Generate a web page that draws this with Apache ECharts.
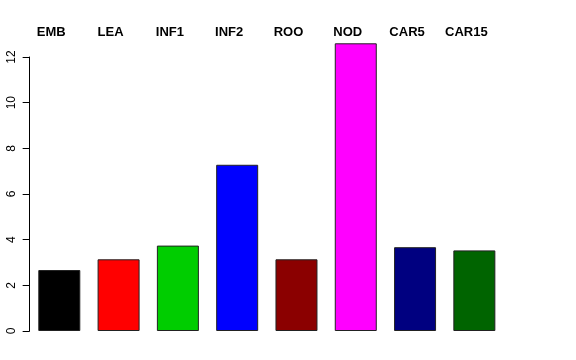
<!DOCTYPE html>
<html>
<head>
<meta charset="utf-8">
<script src="https://cdn.jsdelivr.net/npm/echarts@6/dist/echarts.min.js"></script>
<style>
html,body{margin:0;padding:0;background:#fff;}
#chart{width:576px;height:360px;}
</style>
</head>
<body>
<div id="chart"></div>
<script>
var categories = ["EMB", "LEA", "INF1", "INF2", "ROO", "NOD", "CAR5", "CAR15"];
var values = [2.67, 3.14, 3.74, 7.28, 3.14, 12.6, 3.67, 3.53];
var barColors = ["#000000", "#FF0000", "#00CD00", "#0000FF", "#8B0000", "#FF00FF", "#000080", "#006400"];
var yTicks = [0, 2, 4, 6, 8, 10, 12];

var chart = echarts.init(document.getElementById('chart'), null, {renderer: 'canvas'});
var font = '"Liberation Sans", Arial, Helvetica, sans-serif';
chart.setOption({
  animation: false,
  backgroundColor: '#ffffff',
  grid: {left: 29.65, right: 72, top: 57, bottom: 29, containLabel: false},
  xAxis: {
    type: 'category',
    data: categories,
    position: 'top',
    axisLine: {show: false, onZero: false},
    axisTick: {show: false},
    splitLine: {show: false},
    axisLabel: {
      margin: 18,
      fontFamily: font,
      fontSize: 13,
      fontWeight: 'bold',
      color: '#000',
      padding: [0, 16, 0, 0],
      interval: 0
    }
  },
  yAxis: {
    type: 'value',
    min: yTicks[0],
    max: yTicks[yTicks.length - 1],
    interval: 2,
    axisLine: {show: true, lineStyle: {color: '#000', width: 1}},
    axisTick: {show: true, length: 7, lineStyle: {color: '#000'}},
    splitLine: {show: false},
    axisLabel: {
      rotate: 90,
      margin: 12,
      fontFamily: font,
      fontSize: 12,
      color: '#000'
    }
  },
  series: [{
    type: 'bar',
    clip: false,
    barWidth: 42,
    data: values.map(function (v, i) {
      return {value: v, itemStyle: {color: barColors[i]}};
    }),
    itemStyle: {borderColor: '#222', borderWidth: 1}
  }]
});
</script>
</body>
</html>
